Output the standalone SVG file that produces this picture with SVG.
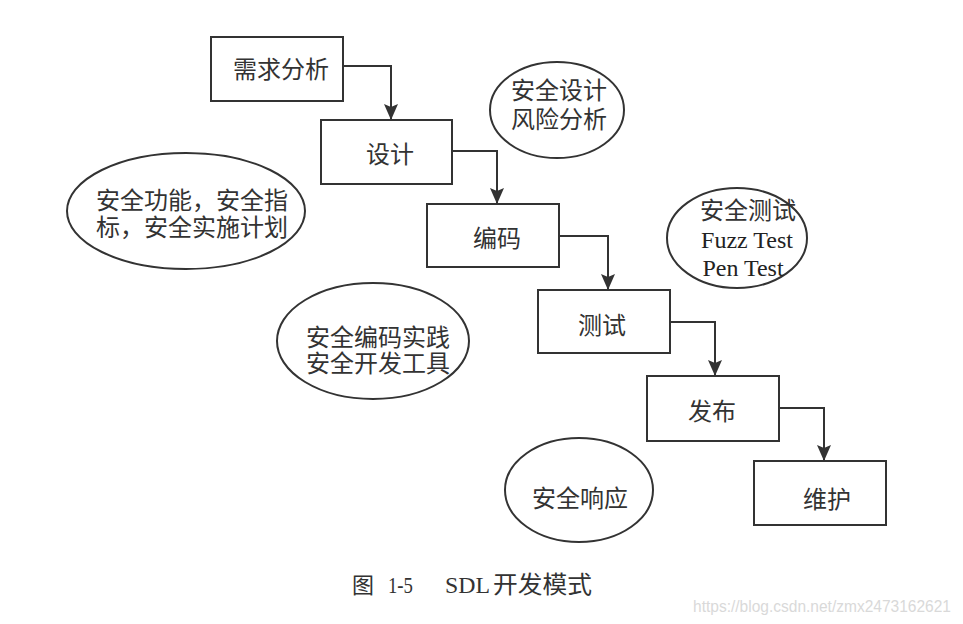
<svg xmlns="http://www.w3.org/2000/svg" width="963" height="624" viewBox="0 0 963 624">
<style>
.box{fill:#fff;stroke:#333;stroke-width:2}
.ell{fill:#fff;stroke:#333;stroke-width:2}
.t{font-family:"Noto Sans CJK SC","Noto Sans",sans-serif;font-size:24px;fill:#333;text-anchor:middle;dominant-baseline:central}
.e{font-family:"Liberation Serif","Noto Sans CJK SC",serif;font-size:24px;fill:#222}
.conn{fill:none;stroke:#333;stroke-width:2}
.cap{font-family:"Liberation Serif","Noto Sans CJK SC",serif;font-size:23px;fill:#333}
</style>
<defs>
<marker id="arr" viewBox="0 0 16 14" markerWidth="16" markerHeight="14" refX="16" refY="7" orient="auto" markerUnits="userSpaceOnUse">
<path d="M0,0 L16,7 L0,14 L3,7 z" fill="#333"/>
</marker>
</defs>
<rect width="963" height="624" fill="#fff"/>

<g id="connectors">
<path class="conn" d="M343,66 H391 V120" marker-end="url(#arr)"/>
<path class="conn" d="M452,151 H497 V204" marker-end="url(#arr)"/>
<path class="conn" d="M559,236 H608 V290" marker-end="url(#arr)"/>
<path class="conn" d="M670,322 H715 V376" marker-end="url(#arr)"/>
<path class="conn" d="M779,408 H824 V461" marker-end="url(#arr)"/>
</g>

<g id="n-xuqiu"><rect class="box" x="211" y="37" width="132" height="64"/><text class="t" x="281" y="67">需求分析</text></g>
<g id="n-sheji"><rect class="box" x="321" y="120" width="131" height="64"/><text class="t" x="390" y="152">设计</text></g>
<g id="n-bianma"><rect class="box" x="427" y="204" width="132" height="63"/><text class="t" x="497" y="236">编码</text></g>
<g id="n-ceshi"><rect class="box" x="538" y="290" width="132" height="63"/><text class="t" x="602" y="323">测试</text></g>
<g id="n-fabu"><rect class="box" x="647" y="376" width="132" height="65"/><text class="t" x="712" y="409">发布</text></g>
<g id="n-weihu"><rect class="box" x="754" y="461" width="132" height="64"/><text class="t" x="827" y="497">维护</text></g>

<g id="e-sjfx"><ellipse class="ell" cx="557" cy="110" rx="67" ry="48"/><text class="t"><tspan x="559" y="88">安全设计</tspan><tspan x="559" y="117">风险分析</tspan></text></g>
<g id="e-gn"><ellipse class="ell" cx="186" cy="211" rx="119" ry="58"/><text class="t"><tspan x="192" y="198">安全功能，安全指</tspan><tspan x="192" y="225">标，安全实施计划</tspan></text></g>
<g id="e-cs"><ellipse class="ell" cx="737" cy="238" rx="70" ry="50"/><text class="t"><tspan x="748" y="208">安全测试</tspan><tspan class="e" x="747" y="240">Fuzz Test</tspan><tspan class="e" x="743" y="268">Pen Test</tspan></text></g>
<g id="e-bm"><ellipse class="ell" cx="373" cy="341" rx="96" ry="58"/><text class="t"><tspan x="378" y="335">安全编码实践</tspan><tspan x="378" y="361">安全开发工具</tspan></text></g>
<g id="e-xy"><ellipse class="ell" cx="579" cy="490" rx="74" ry="52"/><text class="t" x="580" y="496">安全响应</text></g>

<g id="caption">
<text class="cap" y="593"><tspan x="352" font-family="Noto Sans CJK SC, sans-serif" font-size="22">图</tspan><tspan x="388" textLength="25" lengthAdjust="spacingAndGlyphs">1-5</tspan><tspan x="445" font-size="24" textLength="45" lengthAdjust="spacingAndGlyphs">SDL</tspan><tspan x="493" font-family="Noto Sans CJK SC, sans-serif" font-size="24" textLength="99" lengthAdjust="spacingAndGlyphs">开发模式</tspan></text>
</g>
<text x="693" y="612" font-family="Liberation Sans, Arial, sans-serif" font-size="16" fill="#d9d9d9" textLength="258" lengthAdjust="spacingAndGlyphs">https://blog.csdn.net/zmx2473162621</text>
</svg>
